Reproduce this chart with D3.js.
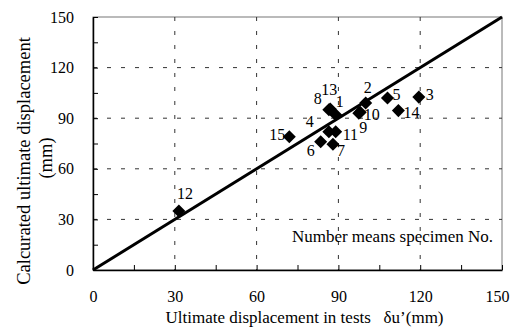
<!DOCTYPE html>
<html>
<head>
<meta charset="utf-8">
<script src="https://cdn.jsdelivr.net/npm/d3@7"></script>
<style>
  html, body { margin: 0; padding: 0; background: #fff; }
  svg text { font-family: "Liberation Serif", "Times New Roman", serif; fill: #000; }
</style>
</head>
<body>
<div id="chart"></div>
<script>
// =====================
// DATA
// =====================
const specimens = ["1", "2", "3", "4", "5", "6", "7", "8", "9", "10", "11", "12", "13", "14", "15"];
const testDisp = [89, 100, 119.5, 86.5, 108, 83.5, 88, 86.5, 98, 97.5, 89, 31.5, 87, 112, 72];
const calcDisp = [92, 99, 102.5, 82, 102, 76, 74.5, 95, 93.5, 93, 82, 35, 95.5, 94.5, 79];
const tickValues = [0, 30, 60, 90, 120, 150];

// label placement around each marker (dx, dy, anchor)
const labelPos = {
  "1": [0, -8, "start"], "2": [-2, -10, "start"], "3": [7, 3, "start"],
  "4": [-15, -5, "end"], "5": [5, 2, "start"], "6": [-6, 14, "end"],
  "7": [4, 12, "start"], "8": [-7, -6, "end"], "9": [-1, 21, "start"],
  "10": [5, 7, "start"], "11": [7, 8, "start"], "12": [-2, -12, "start"],
  "13": [-9, -14, "start"], "14": [5, 7, "start"], "15": [-4, 3, "end"]
};

// =====================
// SVG SETUP
// =====================
const W = 510, H = 331;
const margin = {top: 17, right: 8, bottom: 61, left: 93};
const width = W - margin.left - margin.right;
const height = H - margin.top - margin.bottom;

const svg = d3.select("#chart").append("svg")
  .attr("width", W)
  .attr("height", H);

const g = svg.append("g")
  .attr("transform", `translate(${margin.left},${margin.top})`);

// =====================
// SCALES
// =====================
const x = d3.scaleLinear().domain([0, 150]).range([0, width]);
const y = d3.scaleLinear().domain([0, 150]).range([height, 0]);

// =====================
// GRID + FRAME
// =====================
g.append("rect")
  .attr("width", width).attr("height", height)
  .attr("fill", "none").attr("stroke", "#777").attr("stroke-width", 1);

const grid = tickValues.filter(v => v > 0 && v < 150);
g.append("g").selectAll("line.gx").data(grid).enter().append("line")
  .attr("x1", d => x(d)).attr("x2", d => x(d))
  .attr("y1", 0).attr("y2", height)
  .attr("stroke", "#333").attr("stroke-width", 1).attr("stroke-dasharray", "4,10");
g.append("g").selectAll("line.gy").data(grid).enter().append("line")
  .attr("y1", d => y(d)).attr("y2", d => y(d))
  .attr("x1", 0).attr("x2", width)
  .attr("stroke", "#333").attr("stroke-width", 1).attr("stroke-dasharray", "4,10");

// =====================
// AXES
// =====================
const minor = d3.range(0, 151, 15);

const xAxis = g.append("g")
  .attr("transform", `translate(0,${height})`)
  .call(d3.axisBottom(x).tickValues(minor).tickSizeInner(-5).tickSizeOuter(0)
    .tickFormat(d => tickValues.includes(d) ? d : ""));
xAxis.select(".domain").attr("stroke", "#000").attr("stroke-width", 1.5);
xAxis.selectAll("text").attr("dy", "1.8em").style("font-size", "16px")
  .attr("dx", d => d === 150 ? -5 : 0);

const yAxis = g.append("g")
  .call(d3.axisLeft(y).tickValues(minor).tickSizeInner(-5).tickSizeOuter(0)
    .tickFormat(d => tickValues.includes(d) ? d : ""));
yAxis.select(".domain").attr("stroke", "#000").attr("stroke-width", 1.5);
yAxis.selectAll("text").attr("x", -19).style("font-size", "16px");

// =====================
// 1:1 LINE
// =====================
g.append("line")
  .attr("x1", x(0)).attr("y1", y(0))
  .attr("x2", x(150)).attr("y2", y(150))
  .attr("stroke", "#000").attr("stroke-width", 3);

// =====================
// POINTS
// =====================
const pts = specimens.map((s, i) => ({id: s, tx: testDisp[i], cy: calcDisp[i]}));

g.append("g").selectAll("path").data(pts).enter().append("path")
  .attr("d", d3.symbol().type(d3.symbolSquare).size(85))
  .attr("transform", d => `translate(${x(d.tx)},${y(d.cy)}) rotate(45)`)
  .attr("fill", "#000");

g.append("g").selectAll("text").data(pts).enter().append("text")
  .attr("x", d => x(d.tx) + labelPos[d.id][0])
  .attr("y", d => y(d.cy) + labelPos[d.id][1])
  .attr("text-anchor", d => labelPos[d.id][2])
  .style("font-size", "16px")
  .text(d => d.id);

// =====================
// LABELS
// =====================
g.append("text")
  .attr("x", x(150) - 9)
  .attr("y", y(20) + 6)
  .attr("text-anchor", "end")
  .style("font-size", "17px")
  .text("Number means specimen No.");

svg.append("text")
  .attr("x", margin.left + width / 2 + 7)
  .attr("y", 323)
  .attr("text-anchor", "middle")
  .style("font-size", "17px")
  .attr("xml:space", "preserve")
  .text("Ultimate displacement in tests   \u03B4u\u2019(mm)");

svg.append("text")
  .attr("transform", "rotate(-90)")
  .attr("x", -161)
  .attr("y", 30)
  .attr("text-anchor", "middle")
  .style("font-size", "18.5px")
  .text("Calcurated ultimate displacement");

svg.append("text")
  .attr("transform", "rotate(-90)")
  .attr("x", -158)
  .attr("y", 52)
  .attr("text-anchor", "middle")
  .style("font-size", "18.5px")
  .text("(mm)");
</script>
</body>
</html>
